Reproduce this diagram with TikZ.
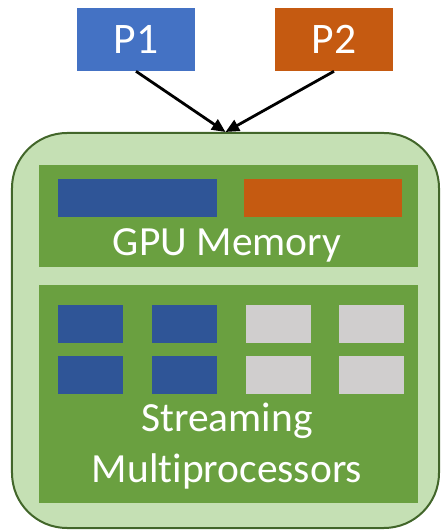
\documentclass[tikz,border=0pt]{standalone}
\usepackage{fontspec}
\setmainfont{Carlito}[Ligatures=NoCommon]
\usetikzlibrary{arrows.meta,calc,positioning}
\definecolor{procblue}{RGB}{68,114,196}
\definecolor{procorange}{RGB}{197,90,17}
\definecolor{gpufill}{RGB}{197,224,180}
\definecolor{gpuborder}{RGB}{66,102,42}
\definecolor{panelgreen}{RGB}{106,160,64}
\definecolor{blockblue}{RGB}{47,85,151}
\definecolor{blockgray}{RGB}{208,206,206}
\tikzset{
procbox/.style={inner sep=0pt, minimum width=2.95cm, minimum height=1.575cm, text=white, font=\fontsize{31}{36}\selectfont},
gpubox/.style={draw=gpuborder, fill=gpufill, line width=0.05cm, rounded corners=1.375cm, inner sep=0pt},
panel/.style={fill=panelgreen, inner sep=0pt, minimum width=9.475cm},
panellabel/.style={text=white, anchor=base, inner sep=0pt, font=\fontsize{29.5}{35}\selectfont},
loadarrow/.style={-{Triangle[length=3.4mm, width=3mm]}, line width=0.07cm, draw=black}
}
\begin{document}
\begin{tikzpicture}[x=1cm,y=1cm]
\useasboundingbox (0,0) rectangle (11.025,13.275);

\node[procbox, fill=procblue] (p1) at (3.40,12.2875) {P1};
\node[procbox, fill=procorange] (p2) at (8.35,12.2875) {P2};

\node[gpubox, minimum width=10.675cm, minimum height=9.875cm] (gpu) at (5.6375,5.0125) {};

% GPU memory
\node[panel, minimum height=2.55cm] (mem) at (5.7125,7.875) {};
\fill[blockblue] (1.45,7.85) rectangle (5.425,8.80);
\fill[procorange] (6.10,7.85) rectangle (10.05,8.80);
\node[panellabel] (memlabel) at (5.675,6.8825) {GPU Memory};

% streaming multiprocessors
\node[panel, minimum height=5.45cm] (sm) at (5.7125,3.425) {};
\foreach \x/\c in {1.45/blockblue, 3.80/blockblue, 6.15/blockgray, 8.475/blockgray} {
  \foreach \y in {4.70, 3.425} {
    \fill[\c] (\x,\y) rectangle ++(1.62,0.95);
  }
}
\node[panellabel] (smlabela) at (5.675,2.475) {Streaming};
\node[panellabel] (smlabelb) at (5.675,1.20) {Multiprocessors};

\draw[loadarrow] (p1.south) -- (gpu.north);
\draw[loadarrow] (p2.south) -- (gpu.north);

\end{tikzpicture}
\end{document}
